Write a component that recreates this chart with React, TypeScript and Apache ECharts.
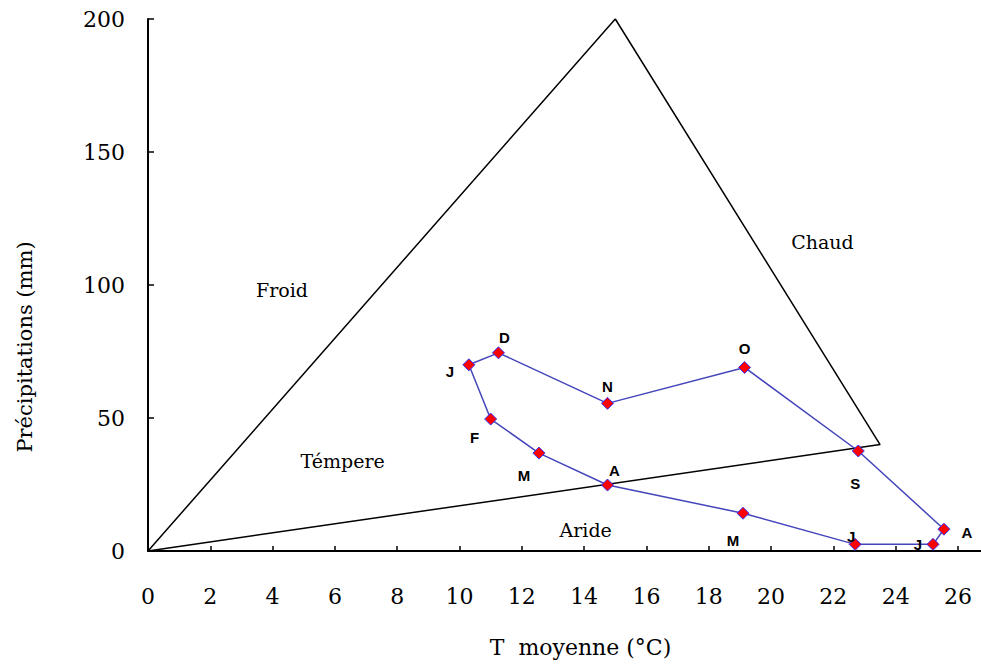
import React, { useEffect, useRef } from "react";
import * as echarts from "echarts";

// Monthly climate data (Peguy climogram)
const months = ["J", "F", "M", "A", "M", "J", "J", "A", "S", "O", "N", "D"];
const tempMean = [10.3, 11.0, 12.55, 14.75, 19.1, 22.7, 25.2, 25.55, 22.8, 19.15, 14.75, 11.25];
const precip = [70, 49.6, 36.8, 24.8, 14.2, 2.5, 2.5, 8.2, 37.6, 69, 55.5, 74.5];

// Peguy triangle boundary (T, P)
const triangleT = [0, 15, 23.5, 0];
const triangleP = [0, 200, 40, 0];

// Zone names and where they sit (T, P)
const zoneNames = ["Froid", "Chaud", "Témpere", "Aride"];
const zoneT = [4.3, 21.65, 6.25, 14.05];
const zoneP = [98, 116, 34, 8];

// Axis ticks
const xTicks = [0, 2, 4, 6, 8, 10, 12, 14, 16, 18, 20, 22, 24, 26];
const yTicks = [0, 50, 100, 150, 200];

// month label offsets (px) relative to marker
const labelOffsets: [number, number][] = [
  [-19, 7], [-16, 18], [-15, 22], [7, -15], [-10, 27], [-4, -8],
  [-15, 0], [23, 3], [-3, 33], [0, -19], [0, -17], [6, -15],
];

export default function App() {
  const ref = useRef<HTMLDivElement>(null);
  useEffect(() => {
    if (!ref.current) return;
    const chart = echarts.init(ref.current, undefined, { renderer: "svg" });
    const serif = "DejaVu Serif";

    const monthData: any[] = months.map((m, i) => ({
      value: [tempMean[i], precip[i]],
      name: m,
      label: {
        show: true,
        position: "inside",
        formatter: m,
        offset: labelOffsets[i],
        color: "#000",
        fontFamily: "Liberation Sans",
        fontSize: 15,
        fontWeight: "bold",
      },
    }));
    // close the loop back to January
    monthData.push({
      value: [tempMean[0], precip[0]],
      symbol: "none",
      label: { show: false },
    });

    chart.setOption({
      animation: false,
      grid: { left: 148, top: 19, right: 0, bottom: 115, containLabel: false },
      xAxis: {
        type: "value",
        min: 0,
        max: 26.74,
        interval: 2,
        name: "T  moyenne (°C)",
        nameLocation: "middle",
        nameGap: 85,
        nameTextStyle: { fontFamily: serif, fontSize: 22, color: "#000", padding: [0, 0, 0, 32] },
        axisLine: { lineStyle: { color: "#000", width: 2 } },
        axisTick: { inside: true, length: 5, lineStyle: { color: "#000", width: 1.5 }, customValues: xTicks },
        axisLabel: {
          customValues: xTicks,
          margin: 34,
          fontFamily: serif,
          fontSize: 22,
          color: "#000",
        },
        splitLine: { show: false },
      },
      yAxis: {
        type: "value",
        min: 0,
        max: 200,
        interval: 50,
        name: "Précipitations (mm)",
        nameLocation: "middle",
        nameRotate: 90,
        nameGap: 113,
        nameTextStyle: { fontFamily: serif, fontSize: 21, color: "#000", padding: [0, 124, 0, 0] },
        axisLine: { show: true, lineStyle: { color: "#000", width: 2 } },
        axisTick: { show: true, inside: true, length: 6, lineStyle: { color: "#000", width: 1.5 }, customValues: yTicks },
        axisLabel: { customValues: yTicks, margin: 23, fontFamily: serif, fontSize: 22, color: "#000" },
        splitLine: { show: false },
      },
      series: [
        {
          type: "line",
          silent: true,
          data: triangleT.map((t, i) => [t, triangleP[i]]),
          symbol: "none",
          lineStyle: { color: "#000", width: 1.5 },
          z: 1,
        },
        {
          type: "scatter",
          silent: true,
          data: zoneNames.map((n, i) => ({ value: [zoneT[i], zoneP[i]], name: n })),
          symbolSize: 0,
          itemStyle: { color: "#000" },
          label: {
            show: true,
            position: "inside",
            formatter: (p: any) => p.name,
            fontFamily: serif,
            fontSize: 19,
            color: "#000",
            opacity: 1,
          },
          z: 2,
        },
        {
          type: "line",
          silent: true,
          data: monthData,
          symbol: "diamond",
          symbolSize: 12,
          itemStyle: { color: "#ff0000", borderColor: "#3333ff", borderWidth: 1 },
          lineStyle: { color: "#4444bb", width: 1.5 },
          z: 3,
        },
      ],
    });
    return () => chart.dispose();
  }, []);
  return (
    <div
      ref={ref}
      style={{ position: "fixed", left: 0, top: 0, width: 981, height: 666, background: "#fff" }}
    />
  );
}
